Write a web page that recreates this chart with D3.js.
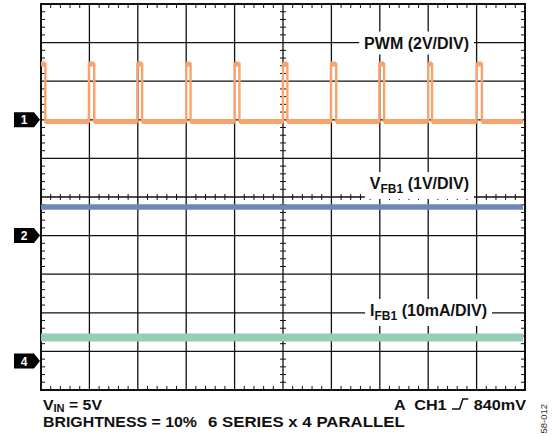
<!DOCTYPE html>
<html>
<head>
<meta charset="utf-8">
<script src="https://cdn.jsdelivr.net/npm/d3@7"></script>
<style>
  body { margin: 0; background: #fff; }
  svg { display: block; font-family: "Liberation Sans", Arial, sans-serif; }
</style>
</head>
<body>
<script>
// scope capture, time and amplitude in divisions / channel units
const pwmRise = [0, 0.99, 1.99, 3.0, 4.0, 5.0, 5.99, 6.99, 8.0, 9.0]
const pwmFall = [0.09, 1.1, 2.09, 3.09, 4.1, 5.09, 6.1, 7.09, 8.08, 9.11]
const pwmLevels = [-0.09, 2.89]          // low, high (V)
const traceEnd = 9.96

const vfbTime = [0, 2.5, 5, 7.5, 9.96]
const vfbVolts = [0.74, 0.74, 0.74, 0.74, 0.74]
const ifbTime = [0, 2.5, 5, 7.5, 9.96]
const ifbMilliamps = [6.1, 6.1, 6.1, 6.1, 6.1]

const markerNames = ['1', '2', '4']
const markerDivs = [2, -1, -4.25]        // ground reference, div from center

const width = 559, height = 437
const frame = {left: 41, right: 525, top: 4, bottom: 390}

const x = d3.scaleLinear().domain([0, 10]).range([frame.left, frame.right])
const y = d3.scaleLinear().domain([-5, 5]).range([frame.bottom, frame.top])

// per-channel volts/div and ground offset
const ch1 = v => y(v / 2 + markerDivs[0])
const ch2 = v => y(v / 1 + markerDivs[1])
const ch4 = i => y(i / 10 + markerDivs[2])

const svg = d3.select('body').append('svg')
    .attr('width', width)
    .attr('height', height)

// grid
const grid = svg.append('g').attr('stroke', '#111').attr('fill', 'none')
grid.selectAll('.vline')
  .data(d3.range(1, 10))
  .enter().append('line')
    .attr('x1', d => x(d)).attr('x2', d => x(d))
    .attr('y1', frame.top).attr('y2', frame.bottom)
    .attr('stroke-width', 1.3)
grid.selectAll('.hline')
  .data(d3.range(-4, 5))
  .enter().append('line')
    .attr('y1', d => y(d)).attr('y2', d => y(d))
    .attr('x1', frame.left).attr('x2', frame.right)
    .attr('stroke-width', 1.3)

const minor = d3.range(0, 50).map(i => i / 5).filter(d => d % 1 !== 0)
const minorY = minor.map(d => d - 5)
const ticks = svg.append('g').attr('stroke', '#111').attr('stroke-width', 1)
// top / bottom border and center horizontal
minor.forEach(d => {
  ticks.append('line').attr('x1', x(d)).attr('x2', x(d)).attr('y1', frame.top).attr('y2', frame.top + 4)
  ticks.append('line').attr('x1', x(d)).attr('x2', x(d)).attr('y1', frame.bottom).attr('y2', frame.bottom - 4)
  ticks.append('line').attr('x1', x(d)).attr('x2', x(d)).attr('y1', y(0) - 3).attr('y2', y(0) + 3)
})
// left / right border and center vertical
minorY.forEach(d => {
  ticks.append('line').attr('y1', y(d)).attr('y2', y(d)).attr('x1', frame.left).attr('x2', frame.left + 4)
  ticks.append('line').attr('y1', y(d)).attr('y2', y(d)).attr('x1', frame.right).attr('x2', frame.right - 4)
  ticks.append('line').attr('y1', y(d)).attr('y2', y(d)).attr('x1', x(5) - 3).attr('x2', x(5) + 3)
})

svg.append('rect')
    .attr('x', frame.left).attr('y', frame.top)
    .attr('width', frame.right - frame.left).attr('height', frame.bottom - frame.top)
    .attr('fill', 'none').attr('stroke', '#111').attr('stroke-width', 2)

// trace labels with white boxes
function traceLabel(main, sub, rest, xEnd, baseline) {
  const g = svg.append('g')
  const t = g.append('text')
      .attr('x', xEnd).attr('y', baseline)
      .attr('text-anchor', 'end')
      .attr('font-size', 16).attr('font-weight', 'bold').attr('fill', '#111')
  t.append('tspan').text(main)
  if (sub) t.append('tspan').attr('font-size', 12).attr('dy', 4).text(sub)
  t.append('tspan').attr('dy', sub ? -4 : 0).text(rest)
  const b = t.node().getBBox()
  g.insert('rect', 'text')
      .attr('x', b.x - 5).attr('y', b.y - 3)
      .attr('width', b.width + 10).attr('height', b.height + 6)
      .attr('fill', '#fff')
}
traceLabel('PWM (2V/DIV)', null, '', 469, 48.5)
traceLabel('V', 'FB1', ' (1V/DIV)', 469, 189)
traceLabel('I', 'FB1', ' (10mA/DIV)', 487, 316)

// traces
const pwmPts = []
pwmRise.forEach((r, i) => {
  if (i === 0) pwmPts.push([0, pwmLevels[1]])
  else { pwmPts.push([r, pwmLevels[0]]); pwmPts.push([r, pwmLevels[1]]) }
  pwmPts.push([pwmFall[i], pwmLevels[1]])
  pwmPts.push([pwmFall[i], pwmLevels[0]])
})
pwmPts.push([traceEnd, pwmLevels[0]])

const pwmLine = d3.line().x(d => x(d[0])).y(d => ch1(d[1]))
svg.append('path')
    .attr('d', pwmLine(pwmPts))
    .attr('fill', 'none').attr('stroke', '#FAA26C').attr('stroke-width', 2.4)
// thicker level segments (trace noise band)
const levelSegs = d3.pairs(pwmPts).filter(p => p[0][1] === p[1][1])
svg.append('g').selectAll('line')
  .data(levelSegs)
  .enter().append('line')
    .attr('x1', d => x(d[0][0])).attr('x2', d => x(d[1][0]))
    .attr('y1', d => ch1(d[0][1])).attr('y2', d => ch1(d[1][1]))
    .attr('stroke', '#FAA26C').attr('stroke-width', 5)

svg.append('path')
    .attr('d', d3.line().x((d, i) => x(vfbTime[i])).y(d => ch2(d))(vfbVolts))
    .attr('fill', 'none').attr('stroke', '#6F89B7').attr('stroke-width', 5.5)
svg.append('path')
    .attr('d', d3.line().x((d, i) => x(ifbTime[i])).y(d => ch4(d))(ifbMilliamps))
    .attr('fill', 'none').attr('stroke', '#97CDB4').attr('stroke-width', 8)

// channel ground markers
const markers = svg.append('g').selectAll('g')
  .data(markerNames)
  .enter().append('g')
    .attr('transform', (d, i) => 'translate(0,' + y(markerDivs[i]) + ')')
markers.append('path')
    .attr('d', 'M14,-7.5H34L40,0L34,7.5H14Z')
    .attr('fill', '#000')
markers.append('text')
    .attr('x', 24).attr('y', 4.5)
    .attr('text-anchor', 'middle')
    .attr('font-size', 12).attr('font-weight', 'bold').attr('fill', '#fff')
    .text(d => d)

// footer text; the capture is stretched sideways, so fit each line to its width
function fit(sel, left, w) {
  const b = sel.node().getBBox()
  const k = w / b.width
  sel.attr('transform', 'translate(' + left + ',0) scale(' + k + ',1) translate(' + (-b.x) + ',0)')
}
const foot = svg.append('g')
    .attr('font-weight', 'bold').attr('font-size', 15).attr('fill', '#111')

const vin = foot.append('text').attr('x', 0).attr('y', 410)
vin.append('tspan').text('V')
vin.append('tspan').attr('font-size', 10.5).attr('dy', 2.5).text('IN')
vin.append('tspan').attr('dy', -2.5).text(' = 5V')
fit(vin, 43, 59)

const bright = foot.append('text').attr('x', 0).attr('y', 427).text('BRIGHTNESS = 10%')
fit(bright, 43, 154)
const series = foot.append('text').attr('x', 0).attr('y', 427).text('6 SERIES x 4 PARALLEL')
fit(series, 208, 197)

const trig = foot.append('g')
const mv = trig.append('text').attr('x', 0).attr('y', 410).attr('text-anchor', 'end').text('840mV')
const mvBox = mv.node().getBBox()
const symR = mvBox.x - 5, symL = symR - 15
trig.append('path')
    .attr('d', 'M' + symL + ',409H' + (symL + 7) + 'L' + (symL + 10) + ',399H' + symR)
    .attr('fill', 'none').attr('stroke', '#111').attr('stroke-width', 1.4)
trig.append('text').attr('x', symL - 5).attr('y', 410).attr('text-anchor', 'end')
    .attr('xml:space', 'preserve')
    .text('A  CH1')
fit(trig, 394, 132)

svg.append('text')
    .attr('transform', 'translate(547,404) rotate(-90)')
    .attr('text-anchor', 'end')
    .attr('font-size', 9.5).attr('fill', '#333')
    .text('58-012')
</script>
</body>
</html>
